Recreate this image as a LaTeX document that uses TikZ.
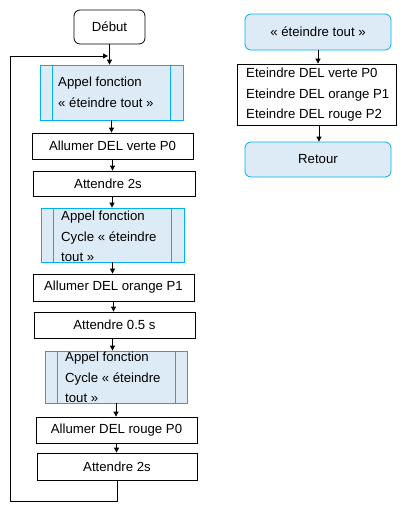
\documentclass[tikz,border=0pt]{standalone}
\usepackage{fontspec}
\setmainfont{Liberation Sans}
\usetikzlibrary{arrows.meta}
\definecolor{cyanb}{HTML}{00B0F0}
\definecolor{fillb}{HTML}{DDEBF7}
\tikzset{
  txt/.style={font=\fontsize{13.2}{20.5}\selectfont, inner sep=0pt},
  plainbox/.style={draw=black, line width=0.8pt, fill=white, inner sep=0pt, txt},
  startbox/.style={draw=black, line width=0.8pt, rounded corners=6pt, inner sep=0pt, txt},
  rbox/.style={draw=cyanb, line width=0.8pt, fill=fillb, rounded corners=6pt, inner sep=0pt, txt},
  callbox/.style={draw=cyanb, line width=0.8pt, fill=fillb, inner sep=0pt},
  arr/.style={-{Triangle[length=5pt,width=5pt]}, line width=0.8pt},
}
\begin{document}
\begin{tikzpicture}[x=1pt,y=-1pt]
\useasboundingbox (0,0) rectangle (402,506);
% left column
\node[startbox, minimum width=71, minimum height=34] (debut) at (109.5,27) {Début};

\node[callbox, minimum width=143, minimum height=55] (b1) at (111.5,92.5) {};
\draw[cyanb, line width=0.8pt] (52,65) -- (52,120) (170,65) -- (170,120);
\node[txt, anchor=west, align=left] (t1) at (58,92.5) {Appel fonction\\« éteindre tout »};

\node[plainbox, minimum width=161, minimum height=26] (b2) at (112.5,146) {Allumer DEL verte P0};
\node[plainbox, minimum width=162, minimum height=25] (b3) at (114,183.5) {\hspace*{-12pt}Attendre 2s};

\node[callbox, minimum width=143, minimum height=54] (b4) at (112.5,235) {};
\draw[cyanb, line width=0.8pt] (53,208) -- (53,262) (171,208) -- (171,262);
\node[txt, anchor=west, align=left] (t4) at (61,236.5) {Appel fonction\\Cycle « éteindre\\tout »};

\node[plainbox, minimum width=161, minimum height=27] (b5) at (113.5,287.5) {Allumer DEL orange P1};
\node[plainbox, minimum width=161, minimum height=26] (b6) at (114.5,325) {Attendre 0.5 s};

\node[callbox, minimum width=142, minimum height=52] (b7) at (116,377) {};
\draw[cyanb, line width=0.8pt] (57,351) -- (57,403) (175,351) -- (175,403);
\node[txt, anchor=west, align=left] (t7) at (65,377.5) {Appel fonction\\Cycle « éteindre\\tout »};

\node[plainbox, minimum width=161, minimum height=26] (b8) at (116.5,430) {Allumer DEL rouge P0};
\node[plainbox, minimum width=160, minimum height=27] (b9) at (117,466.5) {Attendre 2s};

\draw[arr] (debut.south) -- (debut.south |- b1.north);
\draw[arr] (b1.south) -- (b1.south |- b2.north);
\draw[arr] (b2.south) -- (b2.south |- b3.north);
\draw[arr] ([xshift=-2pt]b3.south) -- ([xshift=-2pt]b3.south |- b4.north);
\draw[arr] (b4.south) -- (b4.south |- b5.north);
\draw[arr] (b5.south) -- (b5.south |- b6.north);
\draw[arr] ([xshift=-2pt]b6.south) -- ([xshift=-2pt]b6.south |- b7.north);
\draw[arr] (b7.south) -- (b7.south |- b8.north);
\draw[arr] (b8.south) -- (b8.south |- b9.north);

\coordinate (loopc) at (10,501);
\coordinate (loopin) at (108,56);
\draw[arr] (b9.south) |- (loopc) |- (loopin);

% right column
\node[rbox, minimum width=146, minimum height=36] (r1) at (318,32) {« éteindre tout »};
\node[plainbox, minimum width=159, minimum height=61] (r2) at (316.5,94.5) {};
\node[txt, anchor=west, align=left] (t2) at (246,95)
  {Eteindre DEL verte P0\\Eteindre DEL orange P1\\Eteindre DEL rouge P2};
\node[rbox, minimum width=146, minimum height=35] (r3) at (318,159.5) {Retour};

\draw[arr] (r1.south) -- (r1.south |- r2.north);
\draw[arr] ([xshift=1pt]r1.south |- r2.south) -- ([xshift=1pt]r3.north);
\end{tikzpicture}
\end{document}
